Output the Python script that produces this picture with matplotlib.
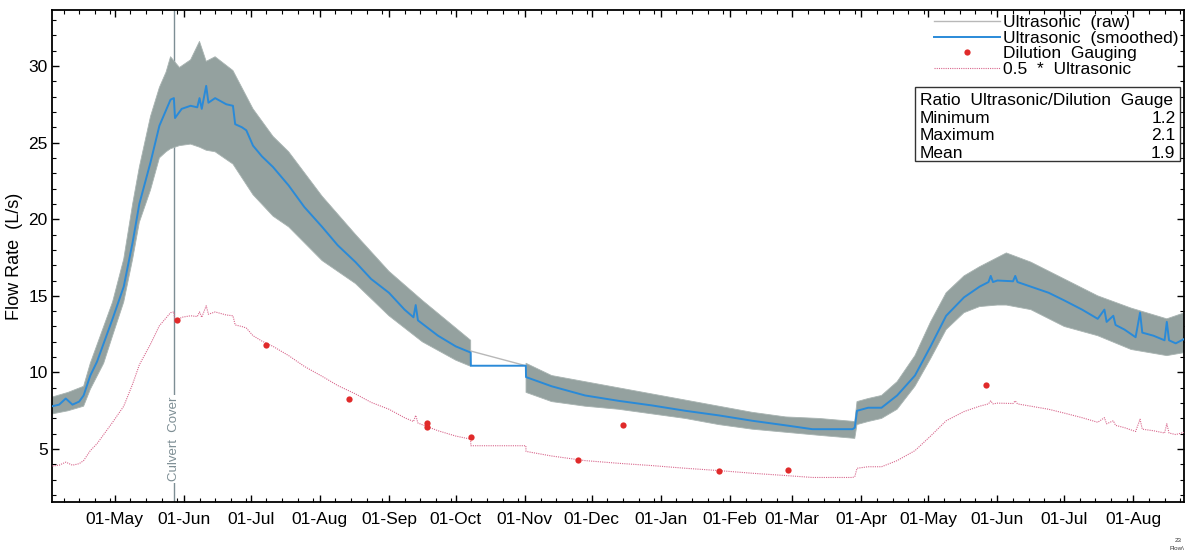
import matplotlib
matplotlib.use('Agg')
import matplotlib.pyplot as plt
import matplotlib.dates as mdates
import matplotlib.patches as patches
import numpy as np
import pandas as pd

plt.rcParams['font.family'] = ['Liberation Sans', 'DejaVu Sans']

# Colors
BAND = '#94a19f'
RAW = '#b8b8b8'
BLUE = '#2a8ad8'
RED = '#e02a2a'
PINK = '#d8668c'
CULVERT = '#7d8e94'

# Ultrasonic (smoothed), L/s
smooth_dates = [
    '2014-04-03', '2014-04-06', '2014-04-09', '2014-04-12', '2014-04-15', '2014-04-17',
    '2014-04-20', '2014-04-23', '2014-04-26', '2014-04-30', '2014-05-05', '2014-05-09',
    '2014-05-12', '2014-05-17', '2014-05-21', '2014-05-26', '2014-05-27 12:00', '2014-05-28',
    '2014-05-31', '2014-06-04', '2014-06-07', '2014-06-08', '2014-06-09', '2014-06-11',
    '2014-06-12', '2014-06-15', '2014-06-20', '2014-06-23', '2014-06-24', '2014-06-27',
    '2014-06-29', '2014-07-02', '2014-07-06', '2014-07-11', '2014-07-18', '2014-07-25',
    '2014-08-02', '2014-08-09', '2014-08-17', '2014-08-24', '2014-09-01', '2014-09-08',
    '2014-09-12', '2014-09-13', '2014-09-14', '2014-09-23', '2014-10-01', '2014-10-07 16:00',
    '2014-10-07 18:00', '2014-11-01 10:00', '2014-11-01 12:00', '2014-11-13', '2014-11-28',
    '2014-12-13', '2014-12-28', '2015-01-12', '2015-01-27', '2015-02-11', '2015-02-26',
    '2015-03-10', '2015-03-20', '2015-03-28', '2015-03-29', '2015-03-30', '2015-04-04',
    '2015-04-10', '2015-04-17', '2015-04-25', '2015-05-02', '2015-05-09', '2015-05-17',
    '2015-05-24', '2015-05-28', '2015-05-29', '2015-05-30', '2015-06-01', '2015-06-08',
    '2015-06-09', '2015-06-10', '2015-06-16', '2015-06-24', '2015-07-01', '2015-07-09',
    '2015-07-16', '2015-07-19', '2015-07-20', '2015-07-23', '2015-07-24', '2015-07-28',
    '2015-08-02', '2015-08-04', '2015-08-05', '2015-08-10', '2015-08-15', '2015-08-16',
    '2015-08-17', '2015-08-20', '2015-08-24',
]
smooth_vals = [
    7.8, 7.9, 8.3, 7.9, 8.1, 8.5,
    9.8, 10.7, 11.9, 13.5, 15.6, 18.5,
    21.0, 23.7, 26.1, 27.8, 27.9, 26.6,
    27.2, 27.4, 27.3, 27.9, 27.2, 28.7,
    27.6, 27.9, 27.5, 27.4, 26.2, 26.0,
    25.8, 24.8, 24.1, 23.4, 22.2, 20.8,
    19.5, 18.3, 17.2, 16.1, 15.2, 14.1,
    13.6, 14.4, 13.4, 12.4, 11.7, 11.3,
    10.44, 10.44, 9.7, 9.1, 8.5,
    8.15, 7.85, 7.5, 7.2, 6.85, 6.55,
    6.3, 6.3, 6.3, 6.4, 7.5, 7.7,
    7.7, 8.5, 9.8, 11.7, 13.7, 14.9,
    15.6, 15.9, 16.3, 15.9, 16.0, 15.95,
    16.3, 15.9, 15.6, 15.2, 14.7, 14.1,
    13.5, 14.1, 13.3, 13.7, 13.1, 12.8,
    12.3, 13.9, 12.6, 12.4, 12.1, 13.3,
    12.1, 11.9, 12.2,
]

# Ultrasonic (raw): spread of the noisy record (upper / lower edge)
raw_dates = [
    '2014-04-03', '2014-04-10', '2014-04-17', '2014-04-20', '2014-04-26', '2014-04-30',
    '2014-05-05', '2014-05-09', '2014-05-12', '2014-05-17', '2014-05-21', '2014-05-24',
    '2014-05-26', '2014-05-30', '2014-06-04', '2014-06-08', '2014-06-11', '2014-06-15',
    '2014-06-23', '2014-07-02', '2014-07-11', '2014-07-18',
    '2014-08-02', '2014-08-17', '2014-09-01', '2014-09-16', '2014-10-01', '2014-10-07 16:00',
    '2014-10-20', '2014-11-01 12:00', '2014-11-13', '2014-11-28', '2014-12-13', '2014-12-28',
    '2015-01-12', '2015-01-27', '2015-02-11', '2015-02-26', '2015-03-13', '2015-03-29',
    '2015-03-30', '2015-04-04', '2015-04-10', '2015-04-17', '2015-04-25', '2015-05-02',
    '2015-05-09', '2015-05-17', '2015-05-24', '2015-06-01', '2015-06-05', '2015-06-16',
    '2015-07-01', '2015-07-16', '2015-07-31', '2015-08-16', '2015-08-24',
]
raw_hi = [
    8.4, 8.7, 9.1, 10.6, 13.0, 14.6,
    17.4, 21.0, 23.4, 26.7, 28.6, 29.6,
    30.6, 29.9, 30.4, 31.6, 30.3, 30.6,
    29.7, 27.2, 25.4, 24.4,
    21.5, 19.0, 16.6, 14.7, 12.9, 12.1,
    np.nan, 10.6, 9.8, 9.4, 9.0, 8.6,
    8.2, 7.8, 7.4, 7.1, 7.0, 6.8,
    8.1, 8.3, 8.5, 9.4, 11.1, 13.3,
    15.2, 16.3, 16.9, 17.5, 17.8, 17.2,
    16.1, 15.0, 14.2, 13.5, 13.9,
]
raw_lo = [
    7.3, 7.5, 7.8, 8.9, 10.6, 12.4,
    14.6, 17.4, 19.8, 21.9, 24.0, 24.4,
    24.6, 24.8, 24.9, 24.7, 24.5, 24.4,
    23.6, 21.6, 20.2, 19.5,
    17.3, 15.8, 13.7, 12.0, 10.8, 10.4,
    np.nan, 8.7, 8.1, 7.8, 7.6, 7.3,
    7.0, 6.6, 6.3, 6.1, 5.9, 5.7,
    6.6, 6.8, 7.0, 7.6, 9.1, 10.9,
    12.8, 13.9, 14.3, 14.4, 14.4, 14.1,
    13.0, 12.4, 11.5, 11.1, 11.3,
]
# raw record joined straight across the data gap
gap_dates = ['2014-10-07 16:00', '2014-11-01 10:00']
gap_vals = [11.4, 10.44]

# Dilution gauging, L/s
dil_dates = ['2014-05-29', '2014-07-08', '2014-08-14', '2014-09-18', '2014-09-18 06:00',
             '2014-10-08', '2014-11-25', '2014-12-15', '2015-01-27', '2015-02-27', '2015-05-27']
dil_vals = [13.4, 11.8, 8.25, 6.7, 6.45, 5.8, 4.3, 6.6, 3.6, 3.65, 9.2]

culvert_date = '2014-05-27 14:00'
ratio_rows = [('Minimum', '1.2'), ('Maximum', '2.1'), ('Mean', '1.9')]

smooth_t = pd.to_datetime(smooth_dates, format='ISO8601')
smooth_v = np.array(smooth_vals)
raw_t = pd.to_datetime(raw_dates, format='ISO8601')

fig = plt.figure(figsize=(11.86, 5.52), dpi=100)
ax = fig.add_axes([0.0438, 0.0906, 0.9545, 0.8913])

ax.fill_between(raw_t, raw_lo, raw_hi, color=BAND, lw=0.6, edgecolor='#a9b4b2', zorder=2)
ax.plot(pd.to_datetime(gap_dates, format='ISO8601'), gap_vals, color=RAW, lw=1, zorder=2)
ax.plot(smooth_t, smooth_v, color=BLUE, lw=1.4, zorder=3)
ax.plot(smooth_t, 0.5 * smooth_v, color=PINK, lw=0.8, ls=(0, (1, 1)), zorder=3)
ax.plot(pd.to_datetime(dil_dates, format='ISO8601'), dil_vals, 'o', color=RED, ms=4.5,
        mec='none', zorder=4)

# Culvert cover marker
ct = pd.Timestamp(culvert_date)
ax.axvline(ct, color=CULVERT, lw=1, zorder=1)
ax.text(ct, 5.67, 'Culvert  Cover', rotation=90, ha='center', va='center',
        fontsize=9.5, color=CULVERT, zorder=5,
        bbox=dict(facecolor='white', edgecolor='none', pad=1.5))

ax.set_xlim(pd.Timestamp('2014-04-02 19:00'), pd.Timestamp('2015-08-23 17:00'))
ax.set_ylim(1.55, 33.65)

ax.xaxis.set_major_locator(mdates.MonthLocator())
ax.xaxis.set_major_formatter(mdates.DateFormatter('%d-%b'))
ax.xaxis.set_minor_locator(mdates.DayLocator(bymonthday=[8, 15, 22, 29]))
ax.set_yticks([5, 10, 15, 20, 25, 30])
ax.yaxis.set_minor_locator(matplotlib.ticker.MultipleLocator(1))
ax.tick_params(which='both', direction='in', top=True, right=True, labelsize=12.5)
ax.tick_params(which='major', length=5, width=1)
ax.tick_params(which='minor', length=3, width=0.8)
ax.tick_params(axis='x', pad=7)
ax.tick_params(axis='y', pad=3)
for s in ax.spines.values():
    s.set_linewidth(1.3)

ax.set_ylabel('Flow Rate  (L/s)', fontsize=13)
ax.yaxis.set_label_coords(-0.0255, 0.5)

# Legend
h_raw, = ax.plot([], [], color=RAW, lw=1)
h_sm, = ax.plot([], [], color=BLUE, lw=1.4)
h_dil, = ax.plot([], [], 'o', color=RED, ms=4.5, mec='none')
h_pk, = ax.plot([], [], color=PINK, lw=0.8, ls=(0, (1, 1)))
ax.legend([h_raw, h_sm, h_dil, h_pk],
          ['Ultrasonic  (raw)', 'Ultrasonic  (smoothed)', 'Dilution  Gauging', '0.5  *  Ultrasonic'],
          loc='upper right', frameon=False, fontsize=12.5, handlelength=3.8,
          handletextpad=0.2, labelspacing=0.02, borderaxespad=0.1, borderpad=0.2)

# Ratio box
x0, x1, y0, y1 = 0.7625, 0.9965, 0.693, 0.8435
ax.add_patch(patches.Rectangle((x0, y0), x1 - x0, y1 - y0, transform=ax.transAxes,
                               facecolor='white', edgecolor='#333333', lw=1, zorder=6))
row_h = (y1 - y0) / 4.25
ax.text(x0 + 0.004, y1 - 0.75 * row_h, 'Ratio  Ultrasonic/Dilution  Gauge', transform=ax.transAxes,
        ha='left', va='center', fontsize=12.5, zorder=7)
for i, (name, val) in enumerate(ratio_rows):
    yy = y1 - (1.8 + i) * row_h
    ax.text(x0 + 0.004, yy, name, transform=ax.transAxes, ha='left', va='center',
            fontsize=12.5, zorder=7)
    ax.text(x1 - 0.004, yy, val, transform=ax.transAxes, ha='right', va='center',
            fontsize=12.5, zorder=7)

fig.text(1178 / 1186, 1 - 541 / 552, '23', fontsize=4.5, ha='center', va='center', color='#333333')
fig.text(1170 / 1186, 1 - 548 / 552, 'Flow\\', fontsize=4.5, ha='left', va='center', color='#333333')

fig.savefig('out.png', dpi=100, facecolor='white')
